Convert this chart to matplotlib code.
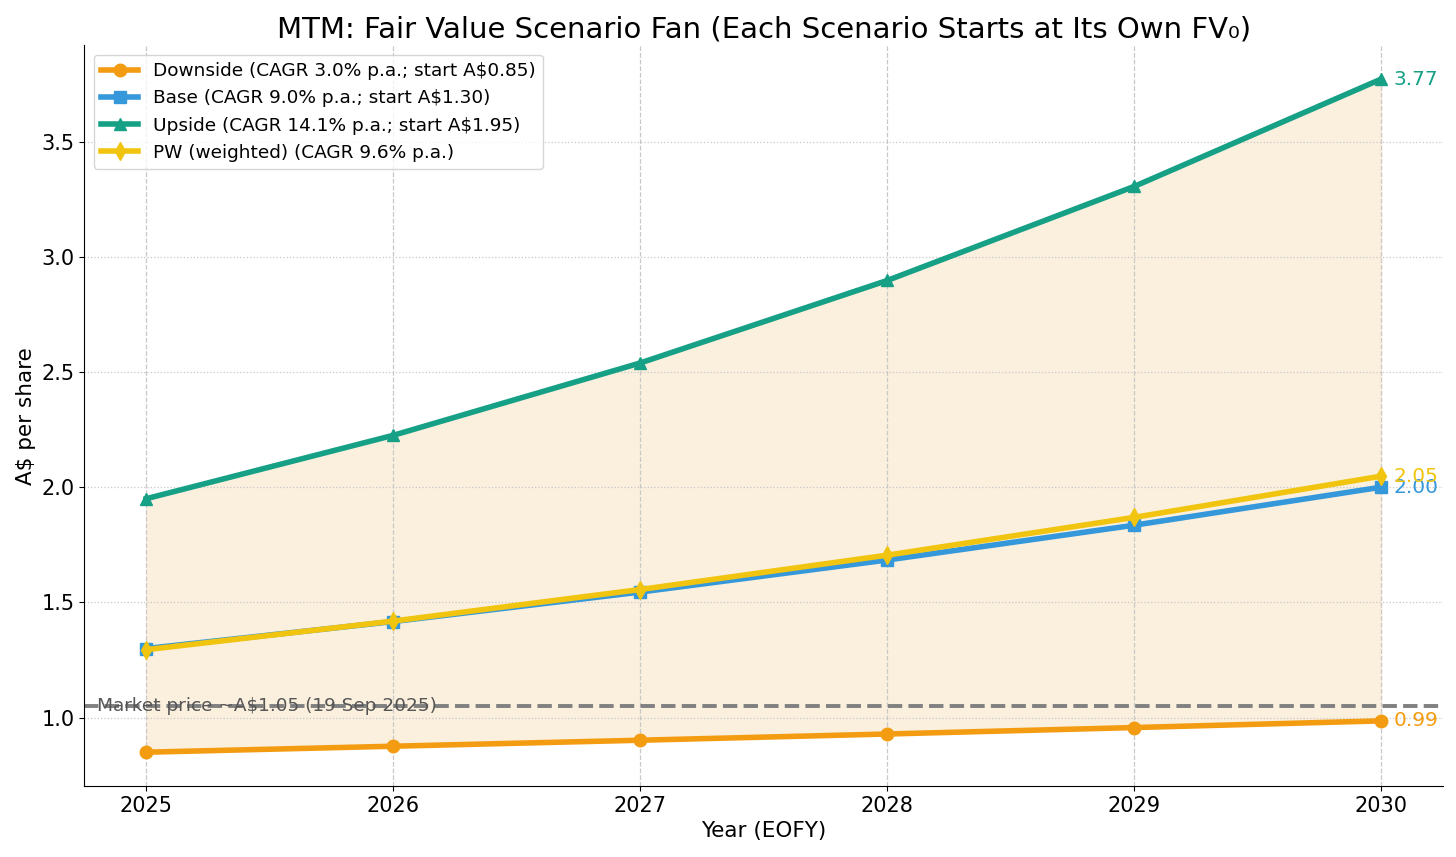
import matplotlib
matplotlib.use("Agg")
import matplotlib.pyplot as plt

# values (A$ per share, EOFY)
years = [2025, 2026, 2027, 2028, 2029, 2030]
downside = [0.85, 0.876, 0.902, 0.929, 0.957, 0.986]
base = [1.30, 1.417, 1.545, 1.684, 1.835, 2.000]
upside = [1.95, 2.225, 2.539, 2.897, 3.305, 3.771]
pw = [1.295, 1.419, 1.556, 1.705, 1.869, 2.048]
market_price = 1.05

labels = ["Downside (CAGR 3.0% p.a.; start A$0.85)",
          "Base (CAGR 9.0% p.a.; start A$1.30)",
          "Upside (CAGR 14.1% p.a.; start A$1.95)",
          "PW (weighted) (CAGR 9.6% p.a.)"]
colors = ["#F39C12", "#3498DB", "#16A085", "#F1C40F"]
markers = ["o", "s", "^", "d"]
series = [downside, base, upside, pw]

fig, ax = plt.subplots(figsize=(14.56, 8.57), dpi=100)

#shaded fan between downside and upside
ax.fill_between(years, downside, upside, color="#FBF0DE", zorder=1)

for vals, lab, col, mk in zip(series, labels, colors, markers):
    ax.plot(years, vals, color=col, marker=mk, lw=4, ms=9, label=lab, zorder=3)

ax.axhline(market_price, color="#808080", ls="--", lw=2.8, zorder=2)
ax.text(2024.8, market_price, "Market price ~A$1.05 (19 Sep 2025)", color="#555555",
        fontsize=13.3, va="center", ha="left", zorder=4)

#end labels
for vals, col in zip(series, colors):
    ax.annotate(f"{vals[-1]:.2f}", (years[-1], vals[-1]), xytext=(9, 0),
                textcoords="offset points", color=col, fontsize=14.5, va="center")

ax.set_xticks(years)
ax.grid(axis="x", ls="--", color="#c8c8c8", lw=0.9)
ax.grid(axis="y", ls=":", color="#c8c8c8", lw=0.9)
ax.spines["top"].set_visible(False)
ax.spines["right"].set_visible(False)
ax.tick_params(labelsize=15)

ax.set_title("MTM: Fair Value Scenario Fan (Each Scenario Starts at Its Own FV\u2080)", fontsize=21)
ax.set_xlabel("Year (EOFY)", fontsize=15.5)
ax.set_ylabel("A$ per share", fontsize=15.5)
ax.legend(loc="upper left", fontsize=13.3)

fig.subplots_adjust(left=0.058, right=0.991, top=0.947, bottom=0.083)
fig.savefig("out.png", dpi=100)
